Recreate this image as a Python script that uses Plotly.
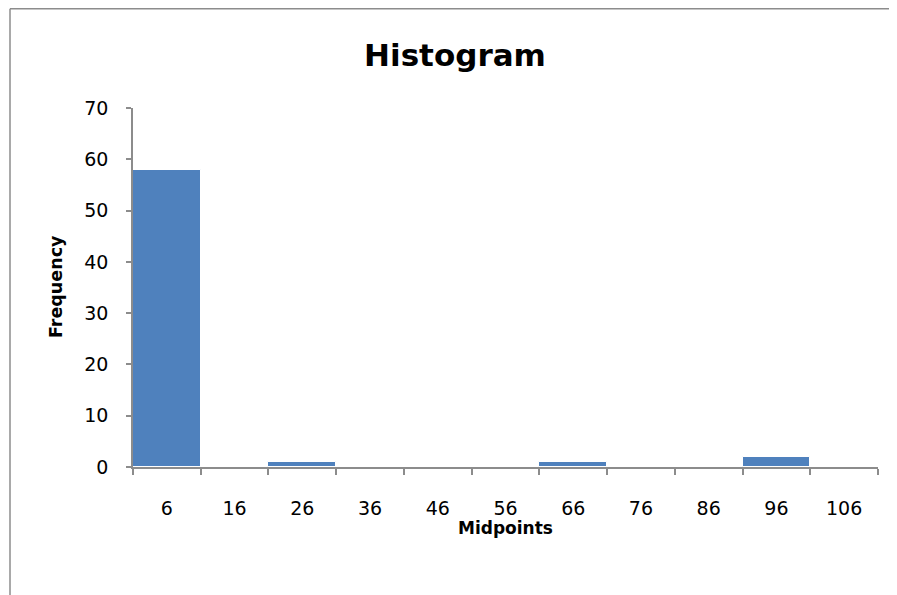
import plotly.graph_objects as go

# Data
midpoints = ["6", "16", "26", "36", "46", "56", "66", "76", "86", "96", "106"]
frequency = [58, 0, 1, 0, 0, 0, 1, 0, 0, 2, 0]

OFF = 8  # page body margin
W, H = 897 - OFF, 595 - OFF
L, R, T, B = 133 - OFF, 19, 108 - OFF, 128
pw, ph = W - L - R, H - T - B

def px_x(x):  # page px -> paper
    return (x - OFF - L) / pw

def px_y(y):
    return (H - B - (y - OFF)) / ph

fig = go.Figure(go.Bar(
    x=midpoints, y=frequency,
    marker=dict(color="#4F81BD", line=dict(color="#ffffff", width=1)),
    hoverinfo="x+y",
))

axis_color = "#8c8c8c"
tick_font = dict(family="DejaVu Sans", size=19, color="#000000")

fig.update_layout(
    width=W, height=H,
    margin=dict(l=L, r=R, t=T, b=B, pad=0),
    paper_bgcolor="white", plot_bgcolor="white",
    bargap=0,
    showlegend=False,
    title=dict(text="<b>Histogram</b>", x=(455 - OFF) / W, xanchor="center",
               y=1 - (55 - OFF) / H, yanchor="middle",
               font=dict(family="DejaVu Sans", size=31, color="#000000")),
    xaxis=dict(type="category", showgrid=False, zeroline=False,
               showline=True, linecolor=axis_color, linewidth=1.5,
               ticks="outside", tickson="boundaries", ticklen=6,
               tickcolor=axis_color, tickwidth=1.5,
               tickfont=tick_font, ticklabelstandoff=23),
    yaxis=dict(range=[0, 70], dtick=10, showgrid=False, zeroline=False,
               showline=True, linecolor=axis_color, linewidth=1.5,
               ticks="outside", ticklen=5, tickcolor=axis_color, tickwidth=1.5,
               tickfont=tick_font, ticklabelstandoff=14),
    annotations=[
        dict(text="<b>Frequency</b>", xref="paper", yref="paper",
             x=px_x(56), y=px_y(287), textangle=-90, showarrow=False,
             xanchor="center", yanchor="middle",
             font=dict(family="DejaVu Sans", size=17.5, color="#000000")),
        dict(text="<b>Midpoints</b>", xref="paper", yref="paper",
             x=px_x(505), y=px_y(528), showarrow=False,
             xanchor="center", yanchor="middle",
             font=dict(family="DejaVu Sans", size=17, color="#000000")),
    ],
    shapes=[
        dict(type="line", xref="paper", yref="paper",
             x0=px_x(10), x1=px_x(897 + 5), y0=px_y(8.8), y1=px_y(8.8),
             line=dict(color="#8c8c8c", width=1.5)),
        dict(type="line", xref="paper", yref="paper",
             x0=px_x(10), x1=px_x(10), y0=px_y(8.8), y1=px_y(595 + 5),
             line=dict(color="#8c8c8c", width=1.5)),
    ],
)

fig.write_html("out.html")
